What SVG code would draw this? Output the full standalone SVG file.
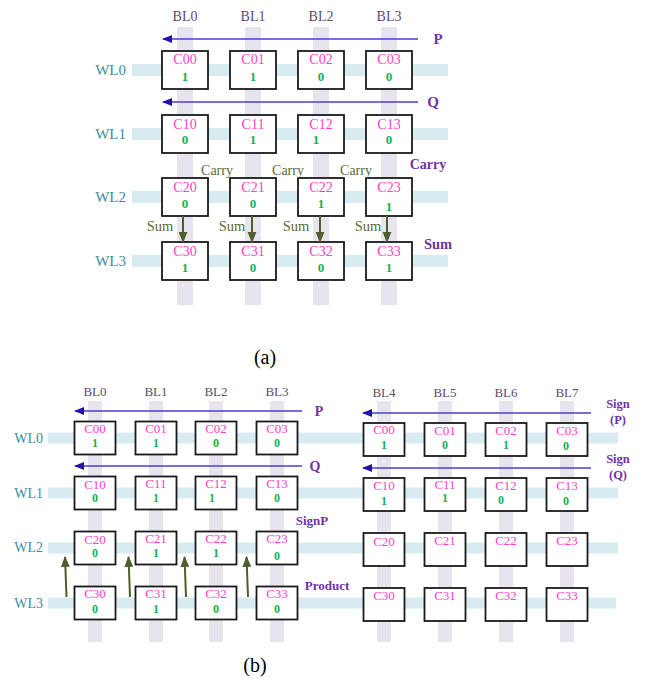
<svg xmlns="http://www.w3.org/2000/svg" width="645" height="679" viewBox="0 0 645 679">
<defs>
<marker id="ab" viewBox="0 0 10 10" refX="9" refY="5" markerWidth="10" markerHeight="10" markerUnits="userSpaceOnUse" orient="auto"><path d="M0,1 L10,5 L0,9 Z" fill="#2412a8"/></marker>
<marker id="ag" viewBox="0 0 10 10" refX="9" refY="5" markerWidth="11" markerHeight="11" markerUnits="userSpaceOnUse" orient="auto"><path d="M0,1 L10,5 L0,9 Z" fill="#4f5f2c"/></marker>
</defs>
<style>
text{font-family:"Liberation Serif","Times New Roman",serif}
.bl{fill:#e7e4ed}
.wl{fill:#d8ebf0}
.box{fill:#fff;stroke:#1a1a1a;stroke-width:1.8}
.cl{fill:#ff3ec8;text-anchor:middle}
.val{fill:#14b050;font-weight:bold;text-anchor:middle}
.bll{fill:#5b4d6e;text-anchor:middle}
.wll{fill:#3a8da2;text-anchor:end}
.pur{fill:#7232a6;font-weight:bold;text-anchor:middle}
.olv{fill:#5c6a3c;text-anchor:middle}
.ab{stroke:#4a3fd0;stroke-width:1.6;fill:none;marker-end:url(#ab)}
.ag{stroke:#4f5f2c;stroke-width:2;fill:none;marker-end:url(#ag)}
.cap{fill:#000;text-anchor:middle;font-size:20px}
</style>

<!-- ===== (a) ===== -->
<g id="a-wordlines">
<rect class="wl" x="132" y="64" width="316" height="12"/>
<rect class="wl" x="132" y="128" width="316" height="12"/>
<rect class="wl" x="132" y="191" width="316" height="12"/>
<rect class="wl" x="132" y="255" width="316" height="12"/>
</g>
<g id="a-bitlines">
<rect class="bl" x="177" y="27" width="16" height="278"/>
<rect class="bl" x="245" y="27" width="16" height="278"/>
<rect class="bl" x="313" y="27" width="16" height="278"/>
<rect class="bl" x="381" y="27" width="16" height="278"/>
</g>
<g id="a-labels" font-size="14">
<text class="bll" x="185" y="21">BL0</text>
<text class="bll" x="253" y="21">BL1</text>
<text class="bll" x="321" y="21">BL2</text>
<text class="bll" x="389" y="21">BL3</text>
<text class="wll" x="126" y="75" font-size="15">WL0</text>
<text class="wll" x="126" y="139" font-size="15">WL1</text>
<text class="wll" x="126" y="202" font-size="15">WL2</text>
<text class="wll" x="126" y="266" font-size="15">WL3</text>
</g>

<g id="a-C00"><rect class="box" x="162" y="51" width="46" height="38"/><text class="cl" x="185" y="64" font-size="14">C00</text><text class="val" x="185" y="81" font-size="13">1</text></g>
<g id="a-C01"><rect class="box" x="230" y="51" width="46" height="38"/><text class="cl" x="253" y="64" font-size="14">C01</text><text class="val" x="253" y="81" font-size="13">1</text></g>
<g id="a-C02"><rect class="box" x="298" y="51" width="46" height="38"/><text class="cl" x="321" y="64" font-size="14">C02</text><text class="val" x="321" y="81" font-size="13">0</text></g>
<g id="a-C03"><rect class="box" x="366" y="51" width="46" height="38"/><text class="cl" x="389" y="64" font-size="14">C03</text><text class="val" x="389" y="81" font-size="13">0</text></g>

<g id="a-C10"><rect class="box" x="162" y="115" width="46" height="38"/><text class="cl" x="185" y="129" font-size="14">C10</text><text class="val" x="185" y="144" font-size="13">0</text></g>
<g id="a-C11"><rect class="box" x="230" y="115" width="46" height="38"/><text class="cl" x="253" y="129" font-size="14">C11</text><text class="val" x="253" y="144" font-size="13">1</text></g>
<g id="a-C12"><rect class="box" x="298" y="115" width="46" height="38"/><text class="cl" x="321" y="129" font-size="14">C12</text><text class="val" x="316" y="144" font-size="13">1</text></g>
<g id="a-C13"><rect class="box" x="366" y="115" width="46" height="38"/><text class="cl" x="389" y="129" font-size="14">C13</text><text class="val" x="389" y="144" font-size="13">0</text></g>

<g id="a-C20"><rect class="box" x="162" y="178" width="46" height="38"/><text class="cl" x="185" y="192" font-size="14">C20</text><text class="val" x="185" y="208" font-size="13">0</text></g>
<g id="a-C21"><rect class="box" x="230" y="178" width="46" height="38"/><text class="cl" x="253" y="192" font-size="14">C21</text><text class="val" x="253" y="208" font-size="13">0</text></g>
<g id="a-C22"><rect class="box" x="298" y="178" width="46" height="38"/><text class="cl" x="321" y="192" font-size="14">C22</text><text class="val" x="321" y="208" font-size="13">1</text></g>
<g id="a-C23"><rect class="box" x="366" y="178" width="46" height="38"/><text class="cl" x="389" y="192" font-size="14">C23</text><text class="val" x="389" y="211" font-size="13">1</text></g>

<g id="a-C30"><rect class="box" x="162" y="242" width="46" height="38"/><text class="cl" x="185" y="256" font-size="14">C30</text><text class="val" x="185" y="272" font-size="13">1</text></g>
<g id="a-C31"><rect class="box" x="230" y="242" width="46" height="38"/><text class="cl" x="253" y="256" font-size="14">C31</text><text class="val" x="253" y="272" font-size="13">0</text></g>
<g id="a-C32"><rect class="box" x="298" y="242" width="46" height="38"/><text class="cl" x="321" y="256" font-size="14">C32</text><text class="val" x="321" y="272" font-size="13">0</text></g>
<g id="a-C33"><rect class="box" x="366" y="242" width="46" height="38"/><text class="cl" x="389" y="256" font-size="14">C33</text><text class="val" x="389" y="272" font-size="13">1</text></g>

<g id="a-connectors">
<line class="ab" x1="418" y1="39" x2="163" y2="39"/>
<line class="ab" x1="418" y1="102" x2="163" y2="102"/>
<line class="ag" x1="183" y1="216" x2="183" y2="242"/>
<line class="ag" x1="252" y1="216" x2="252" y2="242"/>
<line class="ag" x1="320" y1="216" x2="320" y2="242"/>
<line class="ag" x1="387" y1="216" x2="387" y2="242"/>
</g>
<g id="a-annot">
<text class="pur" x="438" y="44" font-size="15">P</text>
<text class="pur" x="433" y="107" font-size="15">Q</text>
<text class="olv" x="217" y="175" font-size="14">Carry</text>
<text class="olv" x="288" y="175" font-size="14">Carry</text>
<text class="olv" x="356" y="175" font-size="14">Carry</text>
<text class="pur" x="428" y="169" font-size="14">Carry</text>
<text class="olv" x="160" y="231" font-size="14.5">Sum</text>
<text class="olv" x="232" y="231" font-size="14.5">Sum</text>
<text class="olv" x="296" y="231" font-size="14.5">Sum</text>
<text class="olv" x="368" y="231" font-size="14.5">Sum</text>
<text class="pur" x="438" y="249" font-size="14.5">Sum</text>
<text class="cap" x="265" y="364">(a)</text>
</g>

<!-- ===== (b) ===== -->
<g id="b-wordlines">
<rect class="wl" x="48" y="432.5" width="570" height="11"/>
<rect class="wl" x="48" y="487.5" width="570" height="11"/>
<rect class="wl" x="48" y="542.5" width="570" height="11"/>
<rect class="wl" x="48" y="597.5" width="568" height="11"/>
</g>
<g id="b-bitlines">
<rect class="bl" x="88" y="401" width="14" height="241"/>
<rect class="bl" x="149" y="401" width="14" height="241"/>
<rect class="bl" x="209" y="401" width="14" height="241"/>
<rect class="bl" x="270" y="401" width="14" height="241"/>
<rect class="bl" x="377" y="401" width="14" height="241"/>
<rect class="bl" x="438" y="401" width="14" height="241"/>
<rect class="bl" x="499" y="401" width="14" height="241"/>
<rect class="bl" x="560" y="401" width="14" height="241"/>
</g>
<g id="b-labels" font-size="13">
<text class="bll" x="95" y="396">BL0</text>
<text class="bll" x="156" y="396">BL1</text>
<text class="bll" x="216" y="396">BL2</text>
<text class="bll" x="277" y="396">BL3</text>
<text class="bll" x="384" y="397">BL4</text>
<text class="bll" x="445" y="397">BL5</text>
<text class="bll" x="506" y="397">BL6</text>
<text class="bll" x="567" y="397">BL7</text>
<text class="wll" x="43" y="443" font-size="14">WL0</text>
<text class="wll" x="43" y="498" font-size="14">WL1</text>
<text class="wll" x="43" y="552" font-size="14">WL2</text>
<text class="wll" x="43" y="608" font-size="14">WL3</text>
</g>

<g id="b-L-C00"><rect class="box" x="74.5" y="421.5" width="41" height="33"/><text class="cl" x="95" y="433" font-size="13">C00</text><text class="val" x="95" y="447" font-size="12">1</text></g>
<g id="b-L-C01"><rect class="box" x="135.5" y="421.5" width="41" height="33"/><text class="cl" x="156" y="433" font-size="13">C01</text><text class="val" x="156" y="447" font-size="12">1</text></g>
<g id="b-L-C02"><rect class="box" x="195.5" y="421.5" width="41" height="33"/><text class="cl" x="216" y="433" font-size="13">C02</text><text class="val" x="216" y="447" font-size="12">0</text></g>
<g id="b-L-C03"><rect class="box" x="256.5" y="421.5" width="41" height="33"/><text class="cl" x="277" y="433" font-size="13">C03</text><text class="val" x="277" y="447" font-size="12">0</text></g>

<g id="b-L-C10"><rect class="box" x="74.5" y="476.5" width="41" height="33"/><text class="cl" x="95" y="489" font-size="13">C10</text><text class="val" x="95" y="502" font-size="12">0</text></g>
<g id="b-L-C11"><rect class="box" x="135.5" y="476.5" width="41" height="33"/><text class="cl" x="156" y="488" font-size="13">C11</text><text class="val" x="156" y="502" font-size="12">1</text></g>
<g id="b-L-C12"><rect class="box" x="195.5" y="476.5" width="41" height="33"/><text class="cl" x="216" y="488" font-size="13">C12</text><text class="val" x="212" y="502" font-size="12">1</text></g>
<g id="b-L-C13"><rect class="box" x="256.5" y="476.5" width="41" height="33"/><text class="cl" x="277" y="488" font-size="13">C13</text><text class="val" x="277" y="502" font-size="12">0</text></g>

<g id="b-L-C20"><rect class="box" x="74.5" y="531.5" width="41" height="33"/><text class="cl" x="95" y="544" font-size="13">C20</text><text class="val" x="95" y="557" font-size="12">0</text></g>
<g id="b-L-C21"><rect class="box" x="135.5" y="531.5" width="41" height="33"/><text class="cl" x="156" y="543" font-size="13">C21</text><text class="val" x="156" y="557" font-size="12">1</text></g>
<g id="b-L-C22"><rect class="box" x="195.5" y="531.5" width="41" height="33"/><text class="cl" x="216" y="543" font-size="13">C22</text><text class="val" x="216" y="557" font-size="12">1</text></g>
<g id="b-L-C23"><rect class="box" x="256.5" y="531.5" width="41" height="33"/><text class="cl" x="277" y="543" font-size="13">C23</text><text class="val" x="277" y="560" font-size="12">0</text></g>

<g id="b-L-C30"><rect class="box" x="74.5" y="586.5" width="41" height="33"/><text class="cl" x="95" y="598" font-size="13">C30</text><text class="val" x="95" y="613" font-size="12">0</text></g>
<g id="b-L-C31"><rect class="box" x="135.5" y="586.5" width="41" height="33"/><text class="cl" x="156" y="598" font-size="13">C31</text><text class="val" x="156" y="613" font-size="12">1</text></g>
<g id="b-L-C32"><rect class="box" x="195.5" y="586.5" width="41" height="33"/><text class="cl" x="216" y="598" font-size="13">C32</text><text class="val" x="216" y="613" font-size="12">0</text></g>
<g id="b-L-C33"><rect class="box" x="256.5" y="586.5" width="41" height="33"/><text class="cl" x="277" y="598" font-size="13">C33</text><text class="val" x="277" y="613" font-size="12">0</text></g>

<g id="b-R-C00"><rect class="box" x="363.5" y="423" width="41" height="33"/><text class="cl" x="384" y="434" font-size="13">C00</text><text class="val" x="384" y="449" font-size="12">1</text></g>
<g id="b-R-C01"><rect class="box" x="424.5" y="423" width="41" height="33"/><text class="cl" x="445" y="435" font-size="13">C01</text><text class="val" x="445" y="449" font-size="12">0</text></g>
<g id="b-R-C02"><rect class="box" x="485.5" y="423" width="41" height="33"/><text class="cl" x="506" y="435" font-size="13">C02</text><text class="val" x="506" y="449" font-size="12">1</text></g>
<g id="b-R-C03"><rect class="box" x="546.5" y="423" width="41" height="33"/><text class="cl" x="567" y="435" font-size="13">C03</text><text class="val" x="566" y="450" font-size="12">0</text></g>

<g id="b-R-C10"><rect class="box" x="363.5" y="478" width="41" height="33"/><text class="cl" x="384" y="490" font-size="13">C10</text><text class="val" x="384" y="505" font-size="12">1</text></g>
<g id="b-R-C11"><rect class="box" x="424.5" y="478" width="41" height="33"/><text class="cl" x="445" y="489" font-size="13">C11</text><text class="val" x="445" y="502" font-size="12">1</text></g>
<g id="b-R-C12"><rect class="box" x="485.5" y="478" width="41" height="33"/><text class="cl" x="506" y="490" font-size="13">C12</text><text class="val" x="501" y="504" font-size="12">0</text></g>
<g id="b-R-C13"><rect class="box" x="546.5" y="478" width="41" height="33"/><text class="cl" x="567" y="490" font-size="13">C13</text><text class="val" x="566" y="505" font-size="12">0</text></g>

<g id="b-R-C20"><rect class="box" x="363.5" y="533" width="41" height="33"/><text class="cl" x="384" y="546" font-size="13">C20</text></g>
<g id="b-R-C21"><rect class="box" x="424.5" y="533" width="41" height="33"/><text class="cl" x="445" y="545" font-size="13">C21</text></g>
<g id="b-R-C22"><rect class="box" x="485.5" y="533" width="41" height="33"/><text class="cl" x="506" y="545" font-size="13">C22</text></g>
<g id="b-R-C23"><rect class="box" x="546.5" y="533" width="41" height="33"/><text class="cl" x="567" y="545" font-size="13">C23</text></g>

<g id="b-R-C30"><rect class="box" x="363.5" y="588" width="41" height="33"/><text class="cl" x="384" y="600" font-size="13">C30</text></g>
<g id="b-R-C31"><rect class="box" x="424.5" y="588" width="41" height="33"/><text class="cl" x="445" y="600" font-size="13">C31</text></g>
<g id="b-R-C32"><rect class="box" x="485.5" y="588" width="41" height="33"/><text class="cl" x="506" y="600" font-size="13">C32</text></g>
<g id="b-R-C33"><rect class="box" x="546.5" y="588" width="41" height="33"/><text class="cl" x="567" y="600" font-size="13">C33</text></g>

<g id="b-connectors">
<line class="ab" x1="302" y1="411" x2="75" y2="411"/>
<line class="ab" x1="302" y1="466" x2="75" y2="466"/>
<line class="ab" x1="591" y1="413" x2="363" y2="413"/>
<line class="ab" x1="591" y1="468" x2="363" y2="468"/>
<line class="ag" x1="66.5" y1="597" x2="65" y2="557"/>
<line class="ag" x1="130" y1="597" x2="128.5" y2="557"/>
<line class="ag" x1="186" y1="597" x2="184.5" y2="557"/>
<line class="ag" x1="248" y1="597" x2="246.5" y2="557"/>
</g>
<g id="b-annot">
<text class="pur" x="319" y="416" font-size="14">P</text>
<text class="pur" x="315" y="471" font-size="14">Q</text>
<text class="pur" x="618" y="408" font-size="12.5">Sign</text>
<text class="pur" x="618" y="424" font-size="12.5">(P)</text>
<text class="pur" x="618" y="463" font-size="12.5">Sign</text>
<text class="pur" x="618" y="479" font-size="12.5">(Q)</text>
<text class="pur" x="312" y="525" font-size="13">SignP</text>
<text class="pur" x="327" y="590" font-size="13">Product</text>
<text class="cap" x="255" y="672">(b)</text>
</g>
</svg>
